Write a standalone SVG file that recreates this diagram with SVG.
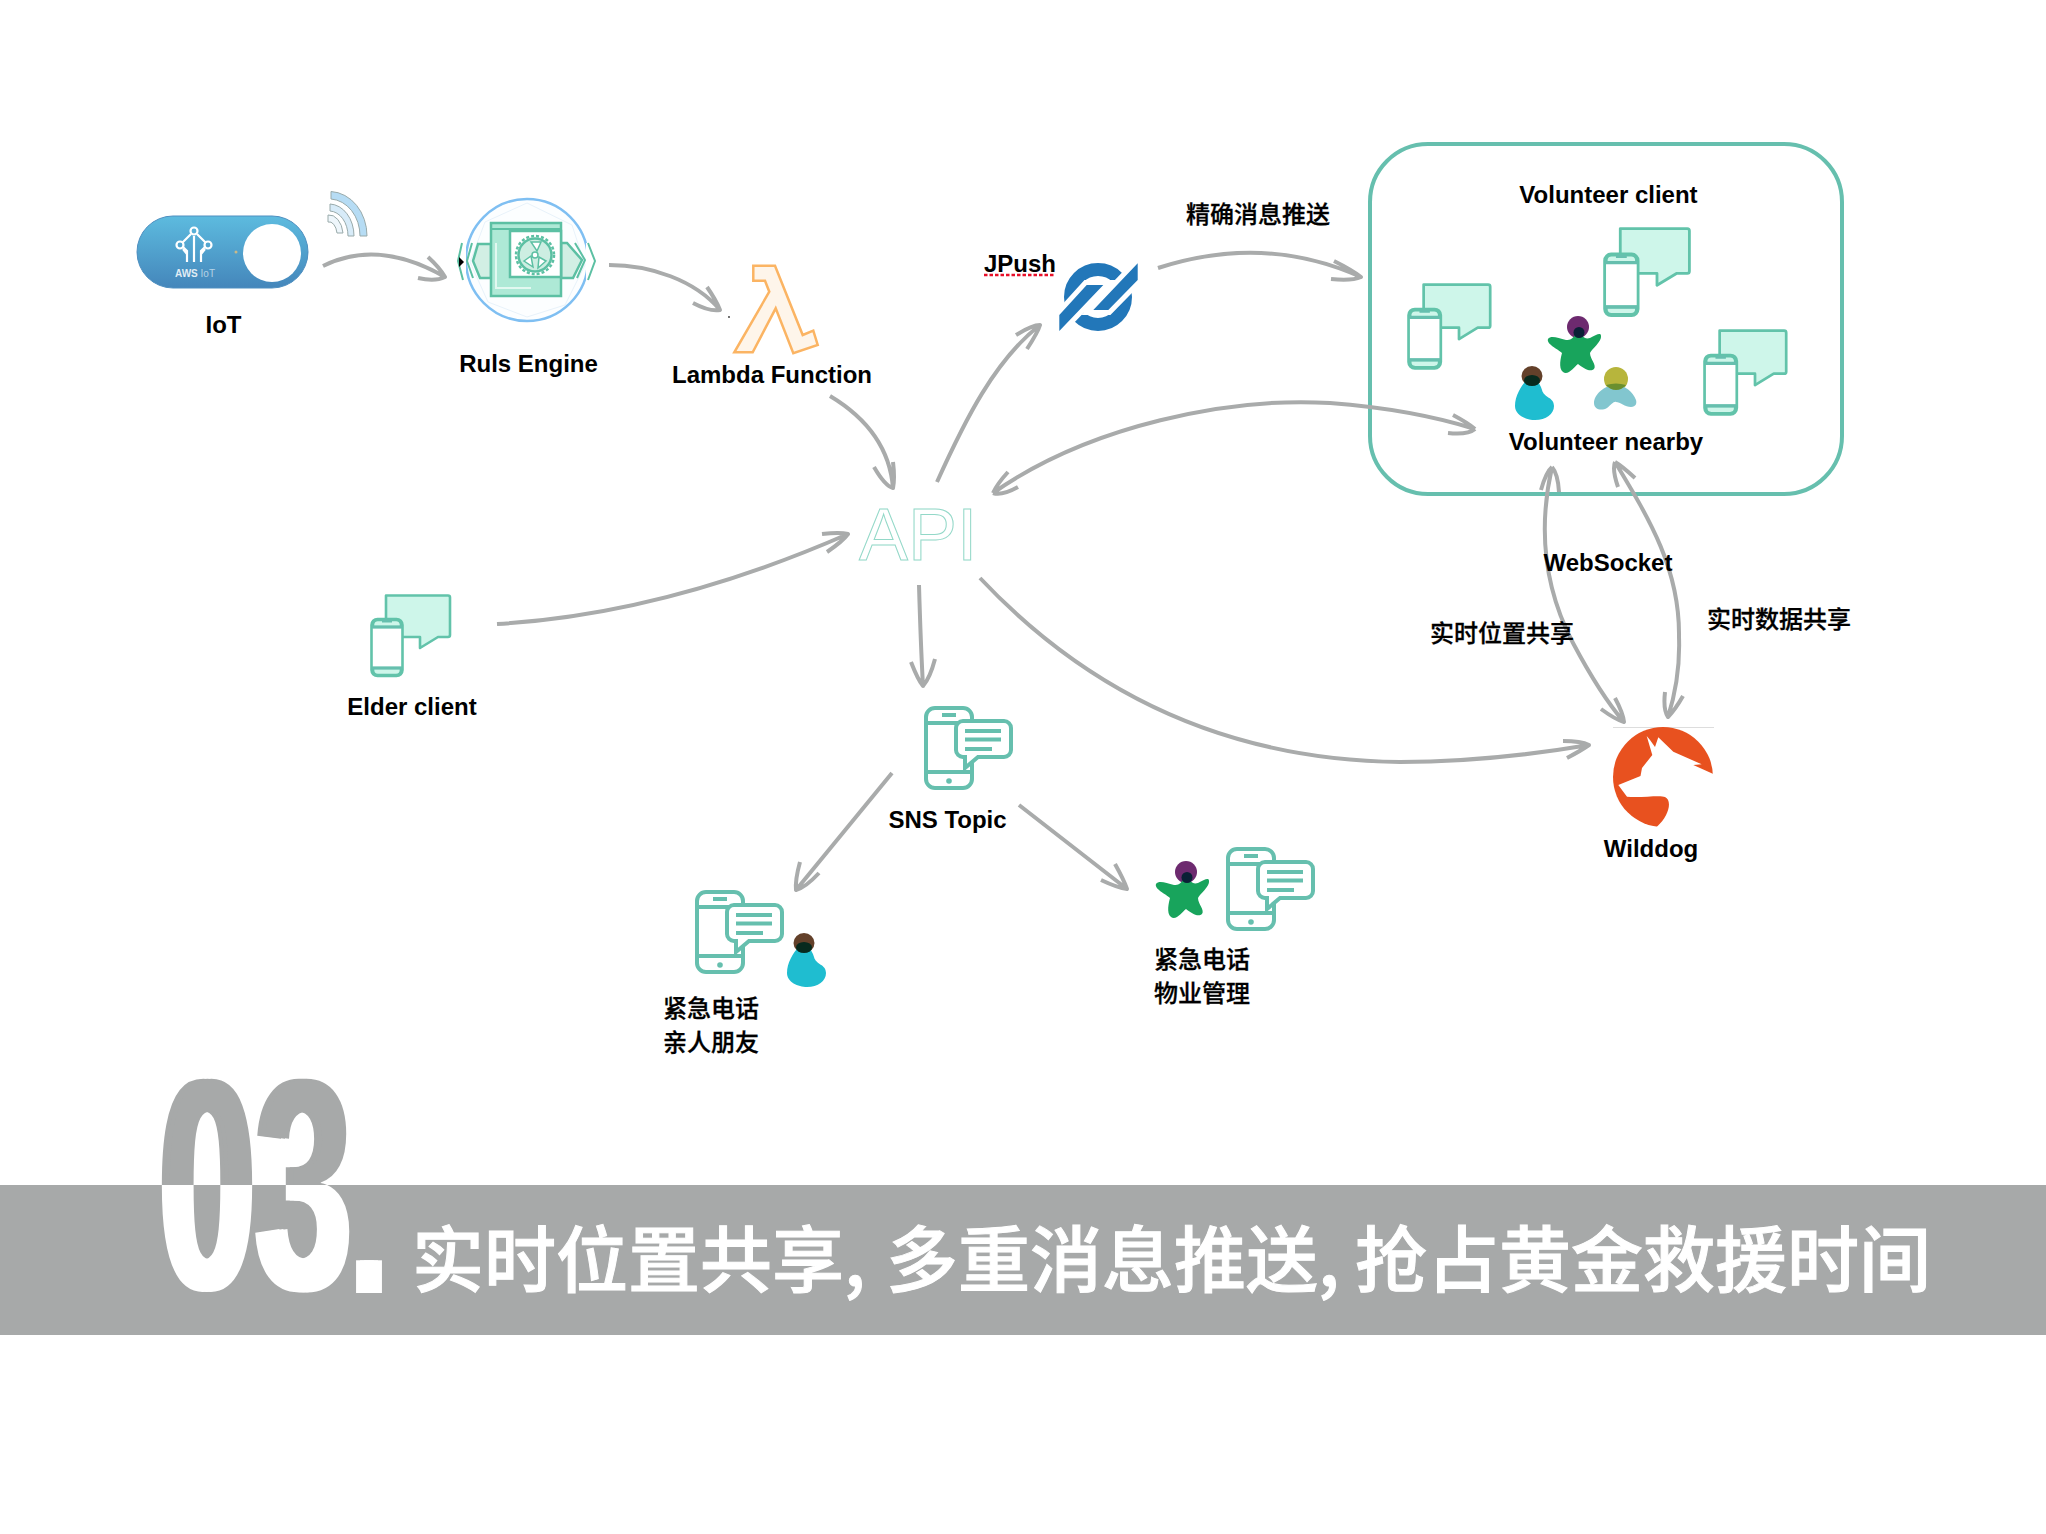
<svg xmlns="http://www.w3.org/2000/svg" xmlns:xlink="http://www.w3.org/1999/xlink" width="2046" height="1534" viewBox="0 0 2046 1534">
<style>
.l{font-family:"Liberation Sans","Noto Sans CJK SC",sans-serif;font-weight:700;font-size:24px;fill:#000}
.c{font-family:"Noto Sans CJK SC","Liberation Sans",sans-serif;font-weight:500;font-size:24px;fill:#000;stroke:#000;stroke-width:.3}
.t{font-family:"Noto Sans CJK SC","Liberation Sans",sans-serif;font-weight:500;font-size:72px;fill:#fff;stroke:#fff;stroke-width:1}
.a{fill:none;stroke:#a9abab;stroke-width:4;stroke-linecap:butt;stroke-linejoin:round}
.g{stroke:#66bfae;stroke-width:4;fill:none}
.m{stroke:#62c3aa;fill:#cef6ea;stroke-width:2.6;stroke-linejoin:round}
.p{stroke:#62c3aa;fill:#fff;stroke-width:2.6}
.s{stroke:#66bfae;stroke-width:3.2;fill:none}
.w{stroke:#9aa;stroke-width:1}
</style>
<defs>
<linearGradient id="btn" x1="0" y1="0" x2="0" y2="1"><stop offset="0" stop-color="#5dbbdf"/><stop offset="1" stop-color="#4486bb"/></linearGradient>
<g id="client">
<path class="m" d="M16,1.500H78a2,2 0 0 1 2,2V41a2,2 0 0 1-2,2H68L50,54V43H16Z"/>
<rect class="p" x="1.500" y="25" width="31" height="57" rx="6"/>
<path class="m" stroke-width="0" d="M3,30a5,5 0 0 1 5-4H26a5,5 0 0 1 5,4V33H3ZM3,74H31V76a5,5 0 0 1-5,5H8a5,5 0 0 1-5-5Z"/>
<path class="s" stroke-width="2.6" d="M2,33H32M2,74H32M12,27H22"/>
</g>
<g id="sns">
<rect class="g" x="2" y="2" width="46" height="80" rx="9"/>
<path class="g" d="M2,17H48M2,66H48"/>
<path class="g" d="M18,9H32" stroke-width="3"/>
<circle cx="25" cy="75" r="2.800" fill="#66bfae"/>
<path d="M39,15h41a7,7 0 0 1 7,7v22a7,7 0 0 1-7,7H54L41,62V51h-2a7,7 0 0 1-7-7V22a7,7 0 0 1 7-7Z" fill="#fff" stroke="#66bfae" stroke-width="4"/>
<path class="g" stroke-width="3.500" d="M41,25H77M41,33.500H77M41,43H68"/>
</g>
<g id="star">
<ellipse cx="0" cy="0" rx="11" ry="11" fill="#6d2a6f"/>
<path fill="#18a45c" d="M-30,12C-27,8-20,11-12,13C-6,14-3,8 0,4C4,8 6,13 12,11C18,8 23,5 23,9C24,14 14,22 12,26C12,32 19,38 16,42C12,46 4,40 0,37C-4,40-10,49-15,45C-20,41-17,30-16,26C-20,22-32,17-30,12Z"/>
<ellipse cx="1" cy="5.500" rx="5.500" ry="5.500" fill="#0a2036"/>
</g>
<g id="blue">
<ellipse cx="0" cy="0" rx="10.500" ry="10" fill="#63402a"/>
<path fill="#1fbdd0" d="M-6,5C-11,10-17,20-17,30C-17,39-6,44 3,44C14,44 22,38 22,30C22,21 12,22 10,14C9,10 6,6 5,4Z"/>
<ellipse cx="0" cy="4.500" rx="8" ry="5.500" fill="#072a1e"/>
</g>
<g id="olive">
<circle cx="0" cy="0" r="12" fill="#b7b53c"/>
<path fill="#82c6cf" d="M0,6C-12,6-22,16-22,24C-22,31-14,32-9,29C-5,26-2,22 0,23C4,23 9,28 15,28C20,28 21,24 20,21C17,13 9,6 0,6Z"/>
<path fill="#6a8f2e" d="M-10,6Q0,3 10,6Q6,11 0,11Q-6,11-10,6Z"/>
</g>
<text id="num" transform="translate(159,1289) scale(.575,1)" font-family="Liberation Sans" font-weight="700" font-size="301">03<tspan font-size="220" dx="0" dy="4">.</tspan></text>
<g id="numb"><use xlink:href="#num" href="#num" x="-4"/><use xlink:href="#num" href="#num"/><use xlink:href="#num" href="#num" x="4"/></g>
<clipPath id="above"><rect x="0" y="0" width="2046" height="1185"/></clipPath>
<clipPath id="below"><rect x="0" y="1185" width="2046" height="349"/></clipPath>
</defs>
<rect width="2046" height="1534" fill="#fff"/>
<g id="banner">
<rect x="0" y="1185" width="2046" height="150" fill="#a7a9a9"/>
<g clip-path="url(#above)" fill="#a7a9a9"><use xlink:href="#numb" href="#numb"/></g>
<g clip-path="url(#below)" fill="#fff"><use xlink:href="#numb" href="#numb"/></g>
<text class="t" x="412" y="1286">实时位置共享,</text>
<text class="t" x="886" y="1286">多重消息推送,</text>
<text class="t" x="1355" y="1286">抢占黄金救援时间</text>
</g>
<g id="node-volunteer">
<rect x="1370" y="144" width="472" height="350" rx="58" fill="none" stroke="#66bfae" stroke-width="4"/>
<text class="l" x="1608.500" y="203" text-anchor="middle">Volunteer client</text>
<use xlink:href="#client" href="#client" transform="translate(1603,227) scale(1.08)"/>
<use xlink:href="#client" href="#client" transform="translate(1407,283) scale(1.04)"/>
<use xlink:href="#client" href="#client" transform="translate(1703,329) scale(1.04)"/>
<use xlink:href="#star" href="#star" x="1578" y="327"/>
<use xlink:href="#blue" href="#blue" x="1532" y="376"/>
<use xlink:href="#olive" href="#olive" x="1616" y="379"/>
<text class="l" x="1606" y="450" text-anchor="middle">Volunteer nearby</text>
</g>
<g id="connectors" class="a">
<path d="M323,266C355,250 395,248 445,277Q440,268 428,257M445,277Q435,282 418,278"/>
<path d="M609,265C650,265 695,280 720,310Q716,300 707,287M720,310Q710,312 693,303"/>
<path d="M830,396C870,420 890,450 893,488Q895,478 893,462M893,488Q885,486 874,467"/>
<path d="M937,482C965,420 995,360 1040,325Q1032,325 1016,335M1040,325Q1038,332 1027,349"/>
<path d="M1158,268C1220,248 1290,245 1361,277Q1352,270 1334,261M1361,277Q1352,281 1331,279"/>
<path d="M993,493C1090,425 1230,397 1330,403C1395,408 1440,418 1475,429M1475,429Q1468,423 1453,415M1475,429Q1468,435 1448,433M993,493Q997,484 1008,472M993,493Q1002,496 1018,487"/>
<path d="M497,624C600,618 720,590 848,534Q840,532 822,534M848,534Q843,541 827,552"/>
<path d="M919,585C920,620 921,650 923,686Q918,680 911,662M923,686Q930,678 935,659"/>
<path d="M980,578C1090,695 1230,760 1400,762C1470,762 1530,755 1589,745Q1581,741 1563,741M1589,745Q1582,750 1567,758"/>
<path d="M892,773L796,890Q795,880 800,862M796,890Q805,888 819,873"/>
<path d="M1019,805L1127,889Q1124,880 1115,864M1127,889Q1118,888 1101,880"/>
<path d="M1552,467C1540,520 1540,580 1573,643C1590,675 1605,700 1624,722Q1623,713 1615,698M1624,722Q1616,720 1601,709M1552,467Q1546,472 1541,490M1552,467Q1558,474 1559,492"/>
<path d="M1615,462C1650,520 1680,570 1679,637C1680,665 1675,695 1668,717Q1675,710 1683,696M1668,717Q1663,710 1665,692M1615,462Q1612,470 1618,487M1615,462Q1622,466 1635,478"/>
</g>
<g id="node-iot">
<path class="w" d="M331,191.500A38,44.500 0 0 1 367,236H360A31,37 0 0 0 331,199Z" fill="#b6dcf4"/>
<path class="w" d="M330,204A25,32 0 0 1 354,236H348A19,25 0 0 0 330,211Z" fill="#d7ebf8"/>
<path class="w" d="M328,215A14,21 0 0 1 343,233H337A8,14 0 0 0 328,222Z" fill="#eef6fb"/>
<rect x="137" y="216" width="171" height="72" rx="36" fill="url(#btn)" stroke="#4e8fc0" stroke-width="1"/>
<circle cx="272" cy="253" r="29" fill="#fff"/>
<g fill="none" stroke="#fff" stroke-width="2.200"><path d="M191,234L182,243M197,234L206,243M183,249L187,254M205,249L201,254M187,262V251L183,247M194,262V236M201,262V251L205,247"/><circle cx="194" cy="231" r="3.500"/><circle cx="180" cy="245" r="3.500"/><circle cx="208" cy="245" r="3.500"/></g>
<circle cx="236" cy="252" r="1.500" fill="#c9b98a"/>
<text x="175" y="277" font-family="Liberation Sans" font-size="10" font-weight="700" fill="#fff" fill-opacity=".85">AWS <tspan font-weight="400" fill-opacity=".6">IoT</tspan></text>
<text class="l" x="223.500" y="333" text-anchor="middle">IoT</text>
</g>
<g id="node-rules">
<circle cx="527" cy="260" r="61" fill="#fcfeff" stroke="#7fbff2" stroke-width="2.500"/>
<path d="M527,203L572,225L585,265L565,305L527,317L488,302L470,262L485,222Z" fill="none" stroke="#e8f2fa" stroke-width="1"/>
<path d="M458,243H466V280H458ZM586,243H598V280H586Z" fill="#fff"/>
<g fill="#d2efe4" stroke="#5cc0a3" stroke-width="2.500">
<path d="M491,244H478L473,261L480,278H491Z"/>
<path d="M561,243H567L582,260L573,278H561Z"/>
</g>
<path d="M472,243L467,261L473,278M462,243L458,261L463,280M575,243L585,260L577,278M588,243L595,261L588,280" fill="none" stroke="#5cc0a3" stroke-width="2"/>
<rect x="491" y="223" width="70" height="73" fill="#aee9d6" stroke="#5cc0a3" stroke-width="2.500"/>
<rect x="510" y="231" width="51" height="46" fill="#fff" stroke="#5cc0a3" stroke-width="2.500"/>
<path d="M491,229H561" stroke="#5cc0a3" stroke-width="2"/>
<path d="M496,243V288H531" fill="none" stroke="#e2f8f0" stroke-width="2"/>
<circle cx="535" cy="255" r="19" fill="none" stroke="#5cc0a3" stroke-width="2.500" stroke-dasharray="3 2"/>
<circle cx="535" cy="255" r="16.500" fill="#cdeee2" stroke="#5cc0a3" stroke-width="2.500"/>
<g fill="#fff" stroke="#5cc0a3" stroke-width="1.500"><path d="M531,242L541,242L537,251Z"/><path d="M524,261L531,256L533,267Z"/><path d="M546,261L539,257L538,268Z"/></g>
<circle cx="535" cy="255" r="3" fill="#fff" stroke="#5cc0a3" stroke-width="1.500"/>
<path d="M459,257L464,262L459,267Z" fill="#000"/>
<text class="l" x="528.500" y="372" text-anchor="middle">Ruls Engine</text>
</g>
<g id="node-lambda">
<path d="M753.300,265.700H775L802.700,335L813.300,330.700L817.700,345L793.300,353.300L775.700,308.300L752.700,352.300H734.300L769.300,291.700L765,280.700H753.300Z" fill="#fef5ea" stroke="#fbb463" stroke-width="2.500"/>
<circle cx="729" cy="317" r="0.900" fill="#333"/>
<text class="l" x="772" y="383" text-anchor="middle">Lambda Function</text>
</g>
<g id="node-jpush">
<circle cx="1098" cy="297" r="27.500" fill="none" stroke="#2277b9" stroke-width="13"/>
<path d="M1059.300,315L1086.700,285H1103.300L1059.300,331ZM1137.700,263.300V280L1108.300,310H1093.300Z" fill="#2277b9" stroke="#fff" stroke-width="10" paint-order="stroke" stroke-linejoin="miter"/>
<text class="l" x="984" y="272">JPush</text>
<path d="M984,275H1054" stroke="#e8102a" stroke-width="2.500" stroke-dasharray="3.500 2" fill="none"/>
</g>
<g id="node-api"><text x="859" y="560" font-family="Liberation Sans" font-size="73.500" fill="#fff" stroke="#93d8c8" stroke-width="1">API</text></g>
<g id="node-elder">
<use xlink:href="#client" href="#client" x="370" y="594"/>
<text class="l" x="412" y="715" text-anchor="middle">Elder client</text>
</g>
<g id="node-sns">
<use xlink:href="#sns" href="#sns" x="924" y="706"/>
<text class="l" x="947.500" y="828" text-anchor="middle">SNS Topic</text>
</g>
<g id="node-family">
<use xlink:href="#sns" href="#sns" x="695" y="890"/>
<use xlink:href="#blue" href="#blue" x="804" y="943"/>
<text class="c" x="663" y="1017">紧急电话</text>
<text class="c" x="663" y="1051">亲人朋友</text>
</g>
<g id="node-property">
<use xlink:href="#sns" href="#sns" x="1226" y="847"/>
<use xlink:href="#star" href="#star" x="1186" y="872"/>
<text class="c" x="1154" y="968">紧急电话</text>
<text class="c" x="1154" y="1002">物业管理</text>
</g>
<g id="node-wilddog">
<path d="M1613,727.500H1714" stroke="#ddd" stroke-width="1"/>
<circle cx="1663" cy="777" r="50" fill="#e8511f"/>
<path d="M1646.700,736L1652.300,755L1642,768L1640.500,776L1618.300,785L1627,796.700C1640,798 1660,795 1665,797C1672,800 1670,815 1656.700,827H1720V777L1693.300,765L1701.700,764.300L1673.300,751.700L1658.300,737.300L1655,747L1650,740Z" fill="#fff"/>
<text class="l" x="1651" y="857" text-anchor="middle">Wilddog</text>
</g>
<g id="labels">
<text class="c" x="1186" y="223">精确消息推送</text>
<text class="l" x="1608" y="571" text-anchor="middle">WebSocket</text>
<text class="c" x="1430" y="642">实时位置共享</text>
<text class="c" x="1707" y="628">实时数据共享</text>
</g>
</svg>
